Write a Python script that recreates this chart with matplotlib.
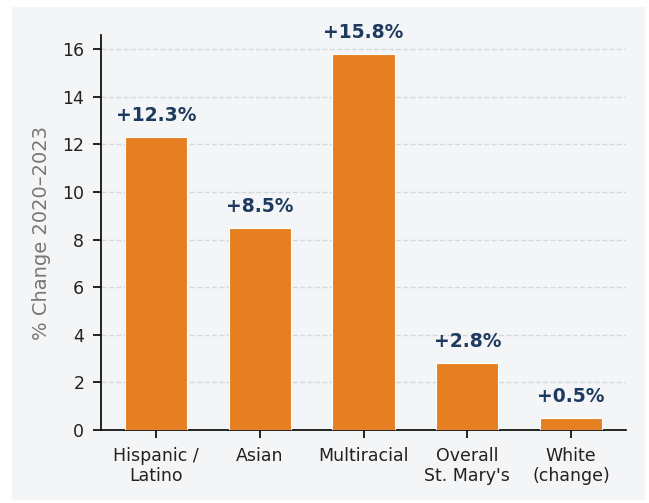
import matplotlib
matplotlib.use("Agg")
import matplotlib.pyplot as plt
from matplotlib.patches import Rectangle

categories = ["Hispanic /\nLatino", "Asian", "Multiracial", "Overall\nSt. Mary's", "White\n(change)"]
values = [12.3, 8.5, 15.8, 2.8, 0.5]
labels = ["+12.3%", "+8.5%", "+15.8%", "+2.8%", "+0.5%"]

bg = "#f4f5f7"
fig = plt.figure(figsize=(6.49, 5.03), dpi=100, facecolor="white")
fig.patches.append(Rectangle((12/649, 3/503), (645-12)/649, (498-5)/503,
                             transform=fig.transFigure, facecolor=bg, edgecolor="none", zorder=-10))
ax = fig.add_axes([101/649, (503-430)/503, (626-101)/649, (430-35)/503])
ax.set_facecolor(bg)

x = range(len(categories))
ax.bar(x, values, width=0.6, color="#e67e22", edgecolor="white", linewidth=0.8, zorder=3)
for xi, v, lab in zip(x, values, labels):
    ax.text(xi, v + 0.5, lab, ha="center", va="bottom", fontsize=13.5,
            fontweight="bold", color="#1f3a5f", zorder=4)

ax.set_xticks(list(x))
ax.set_xticklabels(categories, fontsize=12.5, color="#222222")
ax.set_yticks(range(0, 17, 2))
ax.tick_params(axis="y", labelsize=12.5, labelcolor="#222222")
ax.tick_params(length=6, width=1.2, pad=6)
ax.set_ylim(0, max(values) * 1.05)
ax.set_ylabel("% Change 2020–2023", fontsize=14, color="#777777", labelpad=8)
ax.yaxis.grid(True, linestyle="--", color="#d5d7db", linewidth=1.0, zorder=0)
ax.set_axisbelow(True)
for s in ["top", "right"]:
    ax.spines[s].set_visible(False)
ax.spines["left"].set_linewidth(1.2)
ax.spines["bottom"].set_linewidth(1.2)

fig.savefig("out.png", dpi=100, facecolor=fig.get_facecolor())
